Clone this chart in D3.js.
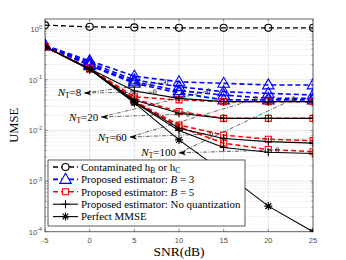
<!DOCTYPE html>
<html lang="en">
<head>
<meta charset="UTF-8">
<script src="https://d3js.org/d3.v7.min.js"></script>
<style>
  body { margin: 0; background: #fff; }
  svg text { font-family: "Liberation Serif", "DejaVu Serif", serif; }
  .tick-lbl { font-family: "Liberation Sans", Arial, sans-serif; font-size: 7.5px; fill: #4d4d4d; }
</style>
</head>
<body>
<svg id="chart" width="346" height="260"></svg>
<script>
// ---- data ----
var snr = [-5, 0, 5, 10, 15, 20, 25];
var nTs = ["8", "20", "60", "100"];

var contaminated = [1.2, 1.11, 1.08, 1.06, 1.06, 1.06, 1.06];

// B = 3 (blue), one row per N_T
var b3 = [
  [0.48, 0.237, 0.118, 0.091, 0.085, 0.079, 0.079],
  [0.47, 0.217, 0.099, 0.073, 0.058, 0.054, 0.050],
  [0.47, 0.200, 0.091, 0.061, 0.050, 0.043, 0.043],
  [0.47, 0.190, 0.085, 0.055, 0.040, 0.040, 0.040]
];
// B = 5 (red)
var b5 = [
  [0.45, 0.168, 0.046, 0.040, 0.037, 0.037, 0.037],
  [0.45, 0.166, 0.042, 0.0235, 0.0173, 0.0173, 0.0173],
  [0.45, 0.165, 0.038, 0.0128, 0.0081, 0.0067, 0.0063],
  [0.45, 0.165, 0.037, 0.0118, 0.0056, 0.0042, 0.0038]
];
// no quantization (black +)
var noQuant = [
  [0.45, 0.165, 0.060, 0.043, 0.037, 0.037, 0.037],
  [0.45, 0.163, 0.040, 0.0218, 0.0173, 0.0173, 0.0173],
  [0.45, 0.162, 0.037, 0.0110, 0.0069, 0.0060, 0.0056],
  [0.45, 0.162, 0.036, 0.0100, 0.0046, 0.0037, 0.0035]
];
var perfect = [0.45, 0.16, 0.035, 0.0065, 0.0015, 0.00032, 0.0001];

var xTicks = [-5, 0, 5, 10, 15, 20, 25];
var yTickExp = [0, -1, -2, -3, -4];

// annotation anchors (data coords): arrow tip, ellipse on blue group, ellipse on black/red group
var annTip = [[-0.6, 0.055], [1.3, 0.0184], [4.5, 0.0074], [10.0, 0.0036]];
var annEllA = [[8.6, 0.090], [13.3, 0.060], [18.6, 0.0416], [22.8, 0.0416]];
var annEllB = [[7.3, 0.057], [11.0, 0.021], [13.6, 0.0085], [21.0, 0.0041]];

// ---- layout ----
var pL = 45, pR = 313, pT = 19, pB = 231.7;
var svg = d3.select("#chart");

var x = d3.scaleLinear().domain([-5, 25]).range([pL, pR]);
var y = d3.scaleLog().domain([1e-4, Math.pow(10, 0.2)]).range([pB, pT]);

svg.append("defs").append("clipPath").attr("id", "clip")
  .append("rect").attr("x", pL).attr("y", pT)
  .attr("width", pR - pL).attr("height", pB - pT);

// grid
var grid = svg.append("g");
var minor = [];
for (var e = -4; e <= 0; e++) {
  for (var m = 2; m <= 9; m++) {
    var v = m * Math.pow(10, e);
    if (v < y.domain()[1]) minor.push(v);
  }
}
grid.selectAll(".minor").data(minor).enter().append("line")
  .attr("x1", pL).attr("x2", pR)
  .attr("y1", d => y(d)).attr("y2", d => y(d))
  .attr("stroke", "#d0d0d0").attr("stroke-width", 0.6).attr("stroke-dasharray", "1,1.5");
grid.selectAll(".majy").data(yTickExp).enter().append("line")
  .attr("x1", pL).attr("x2", pR)
  .attr("y1", d => y(Math.pow(10, d))).attr("y2", d => y(Math.pow(10, d)))
  .attr("stroke", "#e0e0e0").attr("stroke-width", 0.8);
grid.selectAll(".majx").data(xTicks).enter().append("line")
  .attr("y1", pT).attr("y2", pB)
  .attr("x1", d => x(d)).attr("x2", d => x(d))
  .attr("stroke", "#e0e0e0").attr("stroke-width", 0.8);

// frame + ticks
svg.append("rect").attr("x", pL).attr("y", pT)
  .attr("width", pR - pL).attr("height", pB - pT)
  .attr("fill", "none").attr("stroke", "#5a5a5a").attr("stroke-width", 0.9);
var ticks = svg.append("g").attr("stroke", "#5a5a5a").attr("stroke-width", 0.7);
xTicks.forEach(function (t) {
  ticks.append("line").attr("x1", x(t)).attr("x2", x(t)).attr("y1", pB).attr("y2", pB - 2.5);
  ticks.append("line").attr("x1", x(t)).attr("x2", x(t)).attr("y1", pT).attr("y2", pT + 2.5);
});
yTickExp.forEach(function (t) {
  var yy = y(Math.pow(10, t));
  ticks.append("line").attr("x1", pL).attr("x2", pL + 2.5).attr("y1", yy).attr("y2", yy);
  ticks.append("line").attr("x1", pR).attr("x2", pR - 2.5).attr("y1", yy).attr("y2", yy);
});
minor.forEach(function (v) {
  ticks.append("line").attr("x1", pL).attr("x2", pL + 1.5).attr("y1", y(v)).attr("y2", y(v));
  ticks.append("line").attr("x1", pR).attr("x2", pR - 1.5).attr("y1", y(v)).attr("y2", y(v));
});

// tick labels
svg.selectAll(".xl").data(xTicks).enter().append("text")
  .attr("class", "tick-lbl").attr("x", d => x(d)).attr("y", 243)
  .attr("text-anchor", "middle").text(d => d);
yTickExp.forEach(function (t) {
  var tx = svg.append("text").attr("class", "tick-lbl")
    .attr("x", 42).attr("y", y(Math.pow(10, t)) + 3).attr("text-anchor", "end");
  tx.append("tspan").text("10");
  tx.append("tspan").attr("dy", -3.5).style("font-size", "5.5px").text(t === 0 ? "0" : "-" + (-t));
});

// axis titles
svg.append("text").attr("x", 179).attr("y", 256).attr("text-anchor", "middle")
  .style("font-size", "13.5px").text("SNR(dB)");
svg.append("text").attr("transform", "translate(18," + ((pT + pB) / 2) + ") rotate(-90)")
  .attr("text-anchor", "middle").style("font-size", "12.5px").text("UMSE");

// ---- series ----
var plot = svg.append("g").attr("clip-path", "url(#clip)");
var line = d3.line().x((d, i) => x(snr[i])).y(d => y(d));

function markerPath(kind, s) {
  if (kind === "circle") return d3.symbol(d3.symbolCircle, s * s * 0.8)();
  if (kind === "triangle") {
    var h = s * 1.05;
    return "M0," + (-h) + "L" + (h * 0.95) + "," + (h * 0.65) + "L" + (-h * 0.95) + "," + (h * 0.65) + "Z";
  }
  if (kind === "square") return "M" + (-s / 2) + "," + (-s / 2) + "h" + s + "v" + s + "h" + (-s) + "Z";
  if (kind === "plus") return "M0," + (-s / 2) + "V" + (s / 2) + "M" + (-s / 2) + ",0H" + (s / 2);
  if (kind === "star") {
    var r = s / 2, q = r * 0.72;
    return "M0," + (-r) + "V" + r + "M" + (-q) + "," + (-q) + "L" + q + "," + q +
      "M" + (-q) + "," + q + "L" + q + "," + (-q) + "M" + (-r) + ",0H" + r;
  }
}

var styles = {
  cont:  { color: "#000", dash: "5,3", width: 1.3, marker: "circle", size: 7 },
  b3:    { color: "#0000ff", dash: "5,3", width: 1.6, marker: "triangle", size: 5.8 },
  b5:    { color: "#ff0000", dash: "5,3", width: 1.5, marker: "square", size: 6 },
  nq:    { color: "#000", dash: null, width: 1.1, marker: "plus", size: 8 },
  mmse:  { color: "#000", dash: null, width: 1.1, marker: "star", size: 8 }
};

function drawSeries(vals, st) {
  plot.append("path").datum(vals).attr("d", line)
    .attr("fill", "none").attr("stroke", st.color)
    .attr("stroke-width", st.width).attr("stroke-dasharray", st.dash);
  plot.selectAll(null).data(vals).enter().append("path")
    .attr("transform", (d, i) => "translate(" + x(snr[i]) + "," + y(d) + ")")
    .attr("d", markerPath(st.marker, st.size))
    .attr("fill", "none").attr("stroke", st.color).attr("stroke-width", 1.1);
}

drawSeries(contaminated, styles.cont);
b3.forEach(s => drawSeries(s, styles.b3));
b5.forEach(s => drawSeries(s, styles.b5));
noQuant.forEach(s => drawSeries(s, styles.nq));
drawSeries(perfect, styles.mmse);

// ---- N_T annotations ----
var ann = svg.append("g");
nTs.forEach(function (n, i) {
  var tx = x(annTip[i][0]), ty = y(annTip[i][1]);
  [annEllA[i], annEllB[i]].forEach(function (p) {
    ann.append("line").attr("x1", tx).attr("y1", ty)
      .attr("x2", x(p[0])).attr("y2", y(p[1]))
      .attr("stroke", "#222").attr("stroke-width", 0.7).attr("stroke-dasharray", "4,1.5,1,1.5");
    ann.append("ellipse").attr("cx", x(p[0])).attr("cy", y(p[1]))
      .attr("rx", 1.4).attr("ry", 2.6).attr("fill", "none")
      .attr("stroke", "#222").attr("stroke-width", 0.7);
  });
  ann.append("path")
    .attr("d", "M" + tx + "," + ty + "l7,-2.6l-2,2.6l2,2.6Z")
    .attr("fill", "#000");
  var lbl = ann.append("text").attr("x", tx - 3).attr("y", ty + 3.5)
    .attr("text-anchor", "end").style("font-size", "11px");
  lbl.append("tspan").style("font-style", "italic").text("N");
  lbl.append("tspan").attr("dy", 2).style("font-size", "7.5px").text("T");
  lbl.append("tspan").attr("dy", -2).text("=" + n);
});

// ---- legend ----
var legendItems = [
  { key: "cont" }, { key: "b3" }, { key: "b5" }, { key: "nq" }, { key: "mmse" }
];
var lg = svg.append("g");
lg.append("rect").attr("x", 48).attr("y", 160).attr("width", 197).attr("height", 66)
  .attr("fill", "#fff").attr("stroke", "#333").attr("stroke-width", 0.8);
legendItems.forEach(function (it, i) {
  var st = styles[it.key];
  var yy = 167 + i * 12.4;
  lg.append("line").attr("x1", 53).attr("x2", 78).attr("y1", yy).attr("y2", yy)
    .attr("stroke", st.color).attr("stroke-width", st.width).attr("stroke-dasharray", st.dash);
  lg.append("path").attr("transform", "translate(65.5," + yy + ")")
    .attr("d", markerPath(st.marker, st.size)).attr("fill", st.dash ? "#fff" : "none")
    .attr("stroke", st.color).attr("stroke-width", 1.1);
  var t = lg.append("text").attr("x", 81).attr("y", yy + 3.8).style("font-size", "10.9px");
  if (it.key === "cont") {
    t.append("tspan").text("Contaminated h");
    t.append("tspan").attr("dy", 2).style("font-size", "7.5px").text("B");
    t.append("tspan").attr("dy", -2).text(" or h");
    t.append("tspan").attr("dy", 2).style("font-size", "7.5px").text("C");
  } else if (it.key === "b3" || it.key === "b5") {
    t.append("tspan").text("Proposed estimator:  ");
    t.append("tspan").style("font-style", "italic").text("B");
    t.append("tspan").text(" = " + (it.key === "b3" ? "3" : "5"));
  } else if (it.key === "nq") {
    t.text("Proposed estimator:  No quantization");
  } else {
    t.text("Perfect MMSE");
  }
});
</script>
</body>
</html>
